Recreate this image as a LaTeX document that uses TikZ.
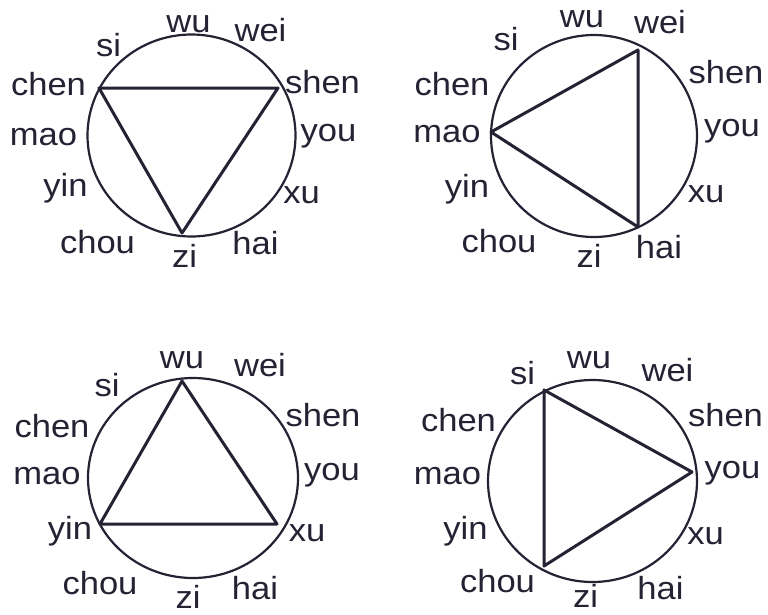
\documentclass[tikz,border=0pt]{standalone}
\usepackage{fontspec}
\setmainfont{Liberation Sans}[FakeStretch=1.08]
\usetikzlibrary{shapes.geometric}
\definecolor{ink}{RGB}{35,35,52}
\begin{document}
\begin{tikzpicture}[x=1pt,y=-1pt,
  lab/.style={inner sep=0pt,anchor=base,text=ink,font=\fontsize{32}{32}\selectfont},
  ring/.style={draw=ink,line width=2.2pt},
  tri/.style={draw=ink,line width=3pt,line join=round}]
\useasboundingbox[fill=white] (0,0) rectangle (768,614);
% ---------- circle 1 ----------
\begin{scope}[shift={(191.5,135.5)}]
  \node[ring,ellipse,minimum width=208pt,minimum height=202pt,inner sep=0pt] (a-ring) at (0,0) {};
  \foreach \n/\x/\y in {wu/-3/-103.5,wei/69/-94.5,shen/131/-42.5,you/137/5.5,xu/110/67.5,hai/64/118.5,zi/-7/132,chou/-94/117.5,yin/-126/60.5,mao/-148/9.5,chen/-143/-40.5,si/-83/-79.5}
    \node[lab] (a-\n) at (\x,\y) {\n};
  \coordinate (a-p1) at (-92.5,-47.5);
  \coordinate (a-p2) at (86.5,-47.5);
  \coordinate (a-p3) at (-9.5,97.5);
  \draw[tri] (a-p1) -- (a-p2) -- (a-p3) -- cycle;
\end{scope}
% ---------- circle 2 ----------
\begin{scope}[shift={(594,136)}]
  \node[ring,ellipse,minimum width=206pt,minimum height=202pt,inner sep=0pt] (b-ring) at (0,0) {};
  \foreach \n/\x/\y in {wu/-12/-108.5,wei/66/-102.5,shen/132/-52.5,you/138/0.5,xu/112/66.5,hai/65/122.5,zi/-5/131.5,chou/-95/116.5,yin/-127/61.5,mao/-147/6.5,chen/-142/-40.5,si/-88/-85.5}
    \node[lab] (b-\n) at (\x,\y) {\n};
  \coordinate (b-p1) at (44,-86);
  \coordinate (b-p2) at (-103,-4);
  \coordinate (b-p3) at (44,91);
  \draw[tri] (b-p1) -- (b-p2) -- (b-p3) -- cycle;
\end{scope}
% ---------- circle 3 ----------
\begin{scope}[shift={(193,478)}]
  \node[ring,ellipse,minimum width=210pt,minimum height=200pt,inner sep=0pt] (c-ring) at (0,0) {};
  \foreach \n/\x/\y in {wu/-11/-109.5,wei/67/-101.5,shen/130/-51.5,you/139/2.5,xu/114/63.5,hai/62/121.5,zi/-5/130,chou/-93/116.5,yin/-123/61.5,mao/-146/6.5,chen/-141/-40.5,si/-86/-81.5}
    \node[lab] (c-\n) at (\x,\y) {\n};
  \coordinate (c-p1) at (-11,-97);
  \coordinate (c-p2) at (-93,46);
  \coordinate (c-p3) at (84,46);
  \draw[tri] (c-p1) -- (c-p2) -- (c-p3) -- cycle;
\end{scope}
% ---------- circle 4 ----------
\begin{scope}[shift={(592.5,481)}]
  \node[ring,ellipse,minimum width=209pt,minimum height=202pt,inner sep=0pt] (d-ring) at (0,0) {};
  \foreach \n/\x/\y in {wu/-3.5/-112.5,wei/75/-99.5,shen/133/-54.5,you/140/-2.5,xu/113/63.5,hai/68/118.5,zi/-7/126,chou/-95/111.5,yin/-127/58.5,mao/-145/3.5,chen/-134/-49.5,si/-70/-96.5}
    \node[lab] (d-\n) at (\x,\y) {\n};
  \coordinate (d-p1) at (-48.5,-91);
  \coordinate (d-p2) at (99.5,-9);
  \coordinate (d-p3) at (-48.5,85);
  \draw[tri] (d-p1) -- (d-p2) -- (d-p3) -- cycle;
\end{scope}
\end{tikzpicture}
\end{document}
